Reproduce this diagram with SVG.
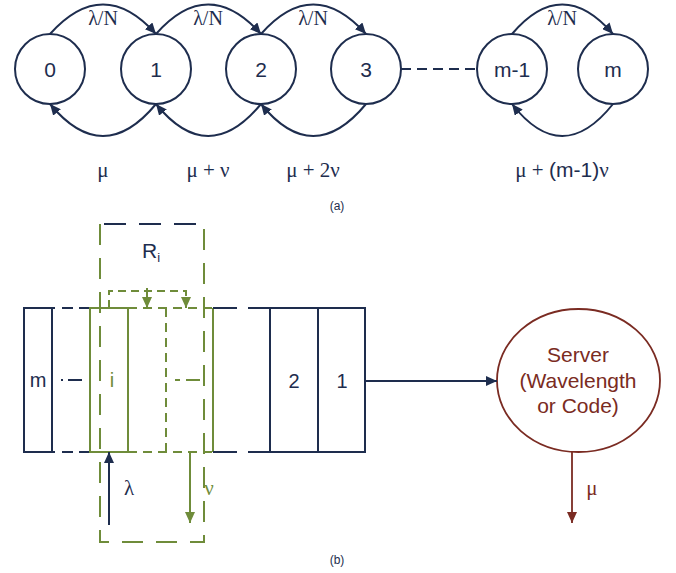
<svg xmlns="http://www.w3.org/2000/svg" width="676" height="573" viewBox="0 0 676 573">
<style>
.nv{stroke:#1e2d4e;fill:none;stroke-width:2}
.gr{stroke:#6f8c3a;fill:none;stroke-width:2}
.br{stroke:#7a2b22;fill:none;stroke-width:1.8}
.sans{font-family:"Liberation Sans",Arial,sans-serif}
.serif{font-family:"Liberation Serif","Times New Roman",serif}
.tn{fill:#1e2d4e}
.tg{fill:#6f8c3a}
.tb{fill:#7a2b22}
</style>
<defs>
<marker id="an" markerUnits="userSpaceOnUse" markerWidth="12" markerHeight="10" refX="11" refY="5" orient="auto"><path d="M0,0 L11,5 L0,10 Z" fill="#1e2d4e"/></marker>
<marker id="ag" markerUnits="userSpaceOnUse" markerWidth="12" markerHeight="10" refX="11" refY="5" orient="auto"><path d="M0,0 L11,5 L0,10 Z" fill="#6f8c3a"/></marker>
<marker id="ab" markerUnits="userSpaceOnUse" markerWidth="12" markerHeight="10" refX="11" refY="5" orient="auto"><path d="M0,0 L11,5 L0,10 Z" fill="#7a2b22"/></marker>
</defs>

<!-- (a) state diagram -->
<g id="s0"><circle class="nv" cx="50" cy="69" r="35"/><text class="sans tn" x="50" y="77" font-size="21" text-anchor="middle">0</text></g>
<g id="s1"><circle class="nv" cx="156" cy="69" r="35"/><text class="sans tn" x="156" y="77" font-size="21" text-anchor="middle">1</text></g>
<g id="s2"><circle class="nv" cx="261" cy="69" r="35"/><text class="sans tn" x="261" y="77" font-size="21" text-anchor="middle">2</text></g>
<g id="s3"><circle class="nv" cx="366" cy="69" r="35"/><text class="sans tn" x="366" y="77" font-size="21" text-anchor="middle">3</text></g>
<g id="sm1"><circle class="nv" cx="512" cy="69" r="35"/><text class="sans tn" x="512" y="77" font-size="21" text-anchor="middle">m-1</text></g>
<g id="sm"><circle class="nv" cx="613" cy="69" r="35"/><text class="sans tn" x="613" y="77" font-size="21" text-anchor="middle">m</text></g>

<g id="connectors-a">
<path class="nv" d="M50,34 Q103,-25 156,34" marker-end="url(#an)"/>
<path class="nv" d="M156,34 Q208,-25 261,34" marker-end="url(#an)"/>
<path class="nv" d="M261,34 Q313,-25 366,34" marker-end="url(#an)"/>
<path class="nv" d="M512,34 Q562,-25 613,34" marker-end="url(#an)"/>
<path class="nv" d="M156,104 Q103,168 50,104" marker-end="url(#an)"/>
<path class="nv" d="M261,104 Q208,168 156,104" marker-end="url(#an)"/>
<path class="nv" d="M366,104 Q313,168 261,104" marker-end="url(#an)"/>
<path class="nv" d="M613,104 Q562,168 512,104" marker-end="url(#an)"/>
<line class="nv" x1="401" y1="69" x2="477" y2="69" stroke-dasharray="10 6"/>
</g>

<g id="labels-a">
<text class="serif tn" x="103" y="25" font-size="20" text-anchor="middle">λ/N</text>
<text class="serif tn" x="208" y="25" font-size="20" text-anchor="middle">λ/N</text>
<text class="serif tn" x="313" y="25" font-size="20" text-anchor="middle">λ/N</text>
<text class="serif tn" x="562" y="25" font-size="20" text-anchor="middle">λ/N</text>
<text class="serif tn" x="103" y="177" font-size="21" text-anchor="middle">μ</text>
<text class="serif tn" x="208" y="177" font-size="21" text-anchor="middle">μ + ν</text>
<text class="serif tn" x="313" y="177" font-size="21" text-anchor="middle">μ + 2ν</text>
<text class="serif tn" x="562" y="177" font-size="21" text-anchor="middle">μ + <tspan class="sans">(m-1)</tspan>ν</text>
<text class="sans tn" x="337" y="210" font-size="12" text-anchor="middle">(a)</text>
</g>

<!-- (b) queue -->
<g id="queue-left">
<rect class="nv" x="24" y="308" width="28" height="144" stroke-width="1.8"/>
<path class="nv" stroke-width="1.8" d="M52,308 H55 M62,308 H73 M79,308 H90 M52,452 H55 M62,452 H73 M79,452 H90 M61,380 H63 M68,380 H82"/>
<text class="sans tn" x="38" y="387" font-size="20" text-anchor="middle">m</text>
</g>

<g id="slot-i">
<rect class="gr" x="90" y="308" width="38" height="144" stroke-width="1.8"/>
<text class="sans tg" x="112" y="387" font-size="20" text-anchor="middle">i</text>
<path class="gr" stroke-width="1.8" d="M128,308 H213 M128,452 H213 M166,308 V452" stroke-dasharray="9 6"/>
<line class="gr" stroke-width="1.8" x1="213" y1="308" x2="213" y2="452"/>
<path class="gr" stroke-width="1.8" d="M175,380 H180 M186,380 H200"/>
</g>

<g id="region-Ri">
<path class="gr" stroke-width="1.8" d="M100,224 V542 H204 V224" stroke-dasharray="21 13"/>
<path class="nv" stroke-width="1.8" d="M104,224 H204" stroke-dasharray="22 13"/>
<text class="sans tn" x="142" y="258" font-size="21">R<tspan font-size="13" dy="4">i</tspan></text>
</g>

<g id="queue-right">
<path class="nv" stroke-width="1.8" d="M213,308 H237 M248,308 H365 V452 H248 M237,452 H213 M270,308 V452 M318,308 V452"/>
<text class="sans tn" x="294" y="388" font-size="20" text-anchor="middle">2</text>
<text class="sans tn" x="342" y="388" font-size="20" text-anchor="middle">1</text>
</g>

<g id="server">
<ellipse class="br" cx="578.5" cy="380.5" rx="81.5" ry="71.5"/>
<text class="sans tb" x="578" y="362" font-size="21" text-anchor="middle">Server</text>
<text class="sans tb" x="578" y="388" font-size="21" text-anchor="middle">(Wavelength</text>
<text class="sans tb" x="578" y="413" font-size="21" text-anchor="middle">or Code)</text>
</g>

<g id="connectors-b">
<path class="gr" stroke-width="1.8" d="M109,308 V291 H186 V308" stroke-dasharray="8 5" marker-end="url(#ag)"/>
<line class="gr" stroke-width="1.8" x1="147" y1="288" x2="147" y2="308" marker-end="url(#ag)"/>
<line class="nv" stroke-width="1.8" x1="109" y1="525" x2="109" y2="452" marker-end="url(#an)"/>
<line class="gr" stroke-width="1.8" x1="190" y1="452" x2="190" y2="523" marker-end="url(#ag)"/>
<line class="nv" stroke-width="1.8" x1="365" y1="381" x2="497" y2="381" marker-end="url(#an)"/>
<line class="br" x1="572" y1="452" x2="572" y2="523" marker-end="url(#ab)"/>
</g>

<g id="labels-b">
<text class="serif tn" x="129" y="495" font-size="21" text-anchor="middle">λ</text>
<text class="serif tg" x="209" y="495" font-size="21" text-anchor="middle">ν</text>
<text class="serif tb" x="592" y="495" font-size="21" text-anchor="middle">μ</text>
<text class="sans tn" x="337" y="564" font-size="12" text-anchor="middle">(b)</text>
</g>
</svg>
